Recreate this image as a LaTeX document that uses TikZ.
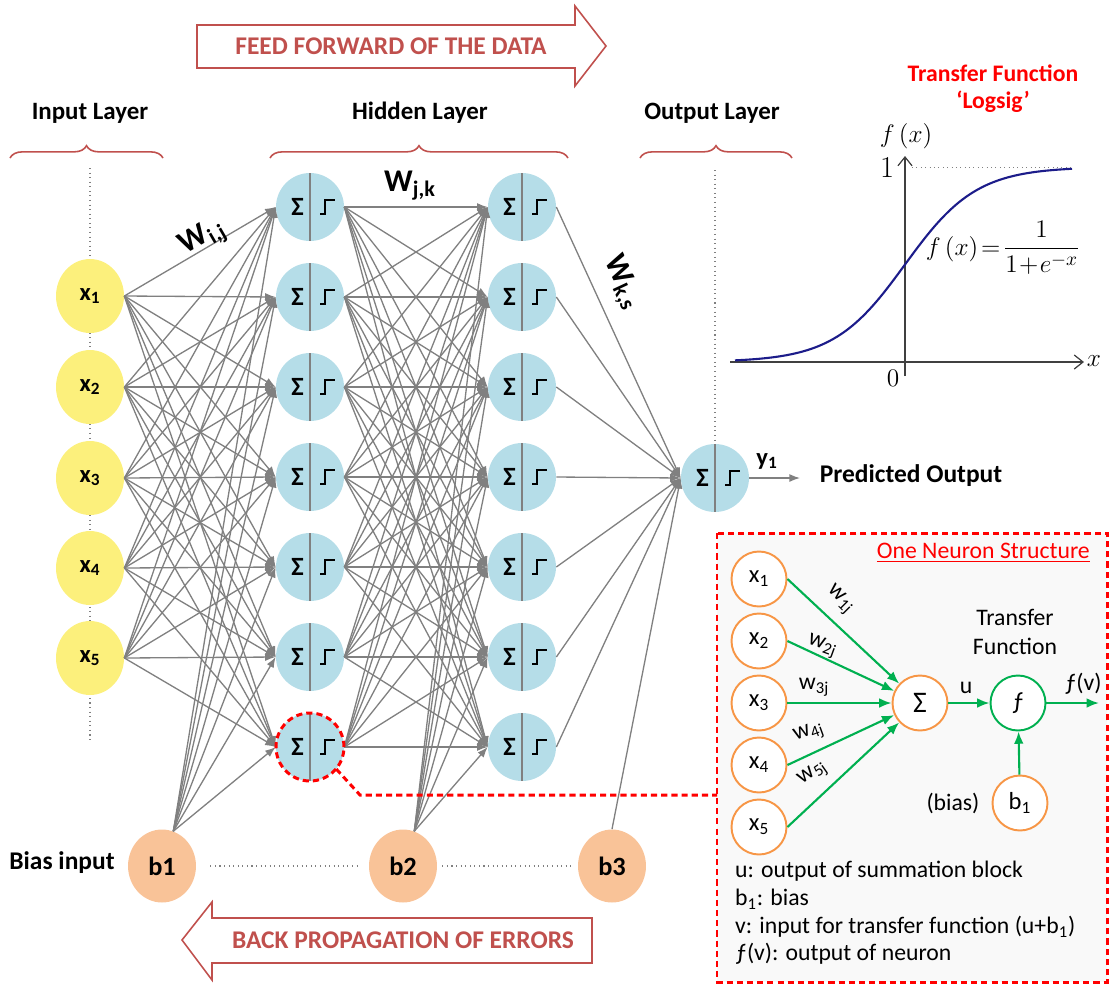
\documentclass[tikz,border=0pt]{standalone}
\usepackage{fontspec}
\setmainfont{Carlito}
\usepackage{tikz}
\usetikzlibrary{arrows.meta}
\usetikzlibrary{shapes.geometric}
\usetikzlibrary{decorations.pathreplacing}

\definecolor{inyellow}{HTML}{FCF07C}
\definecolor{hidblue}{HTML}{B5DDE8}
\definecolor{biasorange}{HTML}{F9C398}
\definecolor{darkred}{HTML}{C0504D}
\definecolor{linkgray}{HTML}{808080}
\definecolor{nrngreen}{HTML}{00B050}
\definecolor{nrnorange}{HTML}{F79646}
\definecolor{curveblue}{HTML}{1C1C8A}

\tikzset{
  inputnode/.style={ellipse, fill=inyellow, minimum width=1.36cm, minimum height=1.48cm, inner sep=0pt,
    font=\fontsize{14}{16}\selectfont\bfseries},
  biasnode/.style={ellipse, fill=biasorange, minimum width=1.36cm, minimum height=1.46cm, inner sep=0pt,
    font=\fontsize{15}{17}\selectfont\bfseries},
  neuron/.style={circle, fill=hidblue, minimum size=1.36cm, inner sep=0pt,
    path picture={
      \draw[linkgray, line width=1pt] (path picture bounding box.north) -- (path picture bounding box.south);
      \node[font=\fontsize{15}{17}\selectfont\bfseries] at ([xshift=-0.25cm]path picture bounding box.center) {Σ};
      \draw[line width=1.5pt] ([shift={(0.2cm,-0.14cm)}]path picture bounding box.center)
        -- ++(0.1cm,0pt) -- ++(0pt,0.28cm) -- ++(0.2cm,0pt);
    }},
  link/.style={linkgray, line width=0.75pt, -{Latex[length=6pt,width=4.5pt]}},
  layertitle/.style={font=\fontsize{14.2}{16}\selectfont\bfseries},
  layerbrace/.style={darkred, line width=0.9pt, decorate, decoration={brace, amplitude=7pt}},
  guide/.style={gray, dotted, line width=0.6pt},
  bigarrow/.style={darkred, line width=0.9pt, line join=miter},
  arrowtext/.style={darkred, font=\fontsize{14.5}{16}\selectfont\bfseries},
  weight/.style={font=\fontsize{18}{20}\selectfont\bfseries},
  reddash/.style={red, line width=1.7pt, dash pattern=on 3.5pt off 2.3pt},
  ncircle/.style={circle, draw=nrnorange, line width=1.1pt, fill=white, minimum size=1.1cm, inner sep=0pt,
    font=\fontsize{14}{16}\selectfont},
  nlink/.style={nrngreen, line width=1.2pt, -{Latex[length=7pt,width=5.5pt]}},
  nlabel/.style={font=\fontsize{13.5}{16}\selectfont},
  axisline/.style={black!75, line width=0.7pt, -{Straight Barb[length=5pt,width=8pt]}}
}

\begin{document}
\begin{tikzpicture}[x=0.02cm, y=-0.02cm]
\useasboundingbox (0,0) rectangle (1110,985);

% dotted guides behind the layers
\draw[guide] (90,168) -- (90,740);
\draw[guide] (715,170) -- (715,440);

% layers
\foreach \i/\y in {1/296,2/387,3/478,4/568,5/658}
  \node[inputnode] (x\i) at (90,\y) {x\textsubscript{\i}};
\foreach \j/\y in {1/207,2/297,3/387,4/477,5/567,6/657,7/747}
  \node[neuron] (hj\j) at (310,\y) {};
\foreach \k/\y in {1/207,2/297,3/387,4/477,5/567,6/657,7/747}
  \node[neuron] (hk\k) at (522,\y) {};
\node[neuron] (out) at (715,478) {};

\node[biasnode] (b1) at (162,866) {b1};
\node[biasnode] (b2) at (403,866) {b2};
\node[biasnode] (b3) at (612,866) {b3};
\node[font=\fontsize{14.5}{16}\selectfont\bfseries] (biaslbl) at (62,863) {Bias input};

\draw[guide] ([xshift=0.28cm]b1.east) -- ([xshift=-0.2cm]b2.west);
\draw[guide] ([xshift=0.1cm]b2.east) -- ([xshift=-0.1cm]b3.west);

% weights
\foreach \i in {1,...,5}
  \foreach \j in {1,...,7}
    \draw[link] (x\i.east) -- (hj\j.west);
\foreach \j in {1,...,7}
  \foreach \k in {1,...,7}
    \draw[link] (hj\j.east) -- (hk\k.west);
\foreach \k in {1,...,7}
  \draw[link] (hk\k.east) -- (out.west);
\foreach \j in {1,...,7}
  \draw[link] (b1.72) -- (hj\j.west);
\foreach \k in {1,...,7}
  \draw[link] (b2.72) -- (hk\k.west);
\draw[link] (b3.north) -- (out.west);

\coordinate (yend) at (800,478);
\draw[link] (out.east) -- (yend);
\node[font=\fontsize{14}{16}\selectfont\bfseries] (ylbl) at (767,461) {y\textsubscript{1}};
\node[font=\fontsize{14.5}{16}\selectfont\bfseries] (predlbl) at (911,476) {Predicted Output};

\node[weight, rotate=30] (wij) at (203,238) {W\textsubscript{i,j}};
\node[weight] (wjk) at (410,186) {W\textsubscript{j,k}};
\node[weight, rotate=-65] (wks) at (622,283) {W\textsubscript{k,s}};

% layer titles
\node[layertitle] (intitle) at (90,113) {Input Layer};
\node[layertitle] (hidtitle) at (420,113) {Hidden Layer};
\node[layertitle] (outtitle) at (712,113) {Output Layer};
\draw[layerbrace] (10,158) -- (163,158);
\draw[layerbrace] (270,158) -- (568,158);
\draw[layerbrace] (640,158) -- (792,158);

% feed forward / back propagation
\draw[bigarrow] (197,25) -- (575,25) -- (575,6) -- (606,46) -- (575,86) -- (575,68) -- (197,68) -- cycle;
\node[arrowtext] (fftext) at (391,46) {FEED FORWARD OF THE DATA};
\draw[bigarrow] (592,918) -- (212,918) -- (212,902) -- (182,940) -- (212,980) -- (212,963) -- (592,963) -- cycle;
\node[arrowtext] (bptext) at (403,940) {BACK PROPAGATION OF ERRORS};

% transfer function plot
\node[red, font=\fontsize{13.5}{15.5}\selectfont\bfseries, align=center] (tftitle) at (993,89) {Transfer Function\\‘Logsig’};
\draw[axisline] (730,362) -- (1084,362);
\draw[axisline] (905,376) -- (905,156);
\draw[gray, dotted, line width=0.5pt] (912,167) -- (1072,167);
\draw[curveblue, line width=1.2pt, domain=735:1072, samples=90, smooth]
  plot (\x, {362-195/(1+exp(-0.028*(\x-905)))});
\node[font=\fontsize{15}{17}\selectfont] (xlbl) at (1094,361) {$x$};
\node[font=\fontsize{15}{17}\selectfont] (zerolbl) at (893,378) {$0$};
\node[font=\fontsize{17}{19}\selectfont] (onelbl) at (887,168) {$1$};
\node[font=\fontsize{15}{17}\selectfont] (fxlbl) at (906,136) {$f\,(x)$};
\node[font=\fontsize{15}{17}\selectfont] (formula) at (1003,248)
  {$\displaystyle f\,(x)\!=\!\frac{1}{1\!+\!e^{-x}}$};

% one neuron structure
\draw[reddash, fill=gray!5] (717,533) rectangle (1107,982);
\node[red, font=\fontsize{13.5}{16}\selectfont, anchor=east] (nstitle) at (1096,553) {\underline{One Neuron Structure}};

\foreach \i/\y in {1/579,2/641,3/703,4/765,5/827}
  \node[ncircle] (nx\i) at (759,\y) {x\textsubscript{\i}};
\node[ncircle, font=\fontsize{17}{19}\selectfont] (nsum) at (920,703) {Σ};
\node[ncircle, draw=nrngreen] (nf) at (1018,703) {ƒ};
\node[ncircle] (nb) at (1020,803) {b\textsubscript{1}};
\node[nlabel] (biasword) at (953,803) {(bias)};
\node[nlabel, align=center] (tfword) at (1015,632) {Transfer\\Function};

\foreach \i in {1,...,5}
  \draw[nlink] (nx\i.east) -- (nsum);
\draw[nlink] (nsum) -- (nf);
\draw[nlink] (nb) -- (nf);
\coordinate (fvend) at (1099,703);
\draw[nlink] (nf) -- (fvend);

\node[nlabel] (ulbl) at (966,688) {u};
\node[nlabel] (fvlbl) at (1083,684) {ƒ(v)};
\node[nlabel, rotate=-45] (w1) at (840,600) {w\textsubscript{1j}};
\node[nlabel, rotate=-20] (w2) at (822,646) {w\textsubscript{2j}};
\node[nlabel] (w3) at (814,687) {w\textsubscript{3j}};
\node[nlabel, rotate=20] (w4) at (809,733) {w\textsubscript{4j}};
\node[nlabel, rotate=35] (w5) at (813,774) {w\textsubscript{5j}};

\node[nlabel, align=left, anchor=north west, font=\fontsize{13.5}{15.8}\selectfont] (legend) at (729,855)
  {u: output of summation block\\
   b\textsubscript{1}: bias\\
   v: input for transfer function (u+b\textsubscript{1})\\
   ƒ(v): output of neuron};

% marked neuron and its callout
\draw[reddash] (hj7) circle (0.68cm);
\coordinate (callbend) at (360,795);
\coordinate (boxin) at (717,795);
\draw[reddash] (hj7.-40) -- (callbend) -- (boxin);

\end{tikzpicture}
\end{document}
